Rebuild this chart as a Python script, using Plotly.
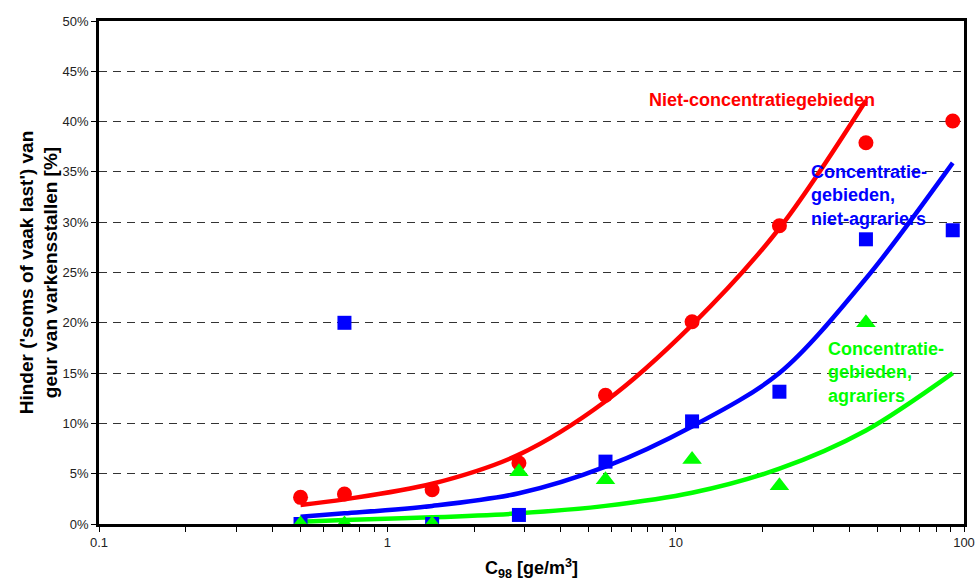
import plotly.graph_objects as go

# Data (C98 in ge/m3, hinder in %)
conc = [0.5, 0.71, 1.43, 2.86, 5.71, 11.4, 22.9, 45.7, 91.4]

red_obs = [2.65, 2.98, 3.4, 6.06, 12.8, 20.1, 29.65, 37.9, 40.06]
blue_obs = [0.0, 20.0, 0.0, 0.9, 6.2, 10.2, 13.15, 28.3, 29.2]
green_x = [0.5, 0.71, 1.43, 2.86, 5.71, 11.4, 22.9, 45.7]
green_obs = [0.0, 0.0, 0.0, 5.2, 4.4, 6.4, 3.8, 20.0]

red_fit_x = [0.5, 0.71, 1.43, 2.86, 5.71, 11.4, 22.9, 45.7]
red_fit = [1.9, 2.45, 4.0, 6.9, 12.2, 19.8, 29.4, 42.1]
blue_fit = [0.73, 1.06, 1.8, 3.05, 5.7, 9.7, 15.0, 24.4, 35.9]
green_fit = [0.23, 0.4, 0.66, 1.06, 1.8, 3.1, 5.5, 9.3, 15.0]

y_ticks = [0, 5, 10, 15, 20, 25, 30, 35, 40, 45, 50]
y_labels = [f"{v}%" for v in y_ticks]
x_ticks = [0.1, 0.2, 0.3, 0.4, 0.5, 0.6, 0.7, 0.8, 0.9,
           1, 2, 3, 4, 5, 6, 7, 8, 9,
           10, 20, 30, 40, 50, 60, 70, 80, 90, 100]
x_labels = {0.1: "0.1", 1: "1", 10: "10", 100: "100"}

RED, BLUE, GREEN = "#FF0000", "#0000FF", "#00FF00"
FONT = "Liberation Sans, Arial, sans-serif"

fig = go.Figure()

for fx, fy, col in [(red_fit_x, red_fit, RED), (conc, blue_fit, BLUE), (conc, green_fit, GREEN)]:
    fig.add_trace(go.Scatter(x=fx, y=fy, mode="lines",
                             line=dict(color=col, width=4.5, shape="spline", smoothing=0.9),
                             showlegend=False, hoverinfo="skip"))

fig.add_trace(go.Scatter(x=conc, y=red_obs, mode="markers",
                         marker=dict(symbol="circle", size=15, color=RED), showlegend=False))
fig.add_trace(go.Scatter(x=conc, y=blue_obs, mode="markers",
                         marker=dict(symbol="square", size=14, color=BLUE), showlegend=False))
fig.add_trace(go.Scatter(x=green_x, y=green_obs, mode="markers",
                         marker=dict(symbol="triangle-up", size=17, color=GREEN), showlegend=False))

fig.add_annotation(text="Niet-concentratiegebieden", xref="paper", yref="y",
                   x=0.634, y=42.1, xanchor="left", yanchor="middle", showarrow=False,
                   font=dict(family=FONT, size=18, color=RED, weight="bold"))
fig.add_annotation(text="Concentratie-<br>gebieden,<br>niet-agrariers", xref="paper", yref="y",
                   x=0.821, y=32.7, xanchor="left", yanchor="middle", align="left", showarrow=False,
                   font=dict(family=FONT, size=18, color=BLUE, weight="bold"))
fig.add_annotation(text="Concentratie-<br>gebieden,<br>agrariers", xref="paper", yref="y",
                   x=0.840, y=15.1, xanchor="left", yanchor="middle", align="left", showarrow=False,
                   font=dict(family=FONT, size=18, color=GREEN, weight="bold"))

fig.update_layout(
    width=979, height=581,
    margin=dict(l=99, r=15, t=21, b=57, autoexpand=False),
    paper_bgcolor="white", plot_bgcolor="white",
    font=dict(family=FONT, color="#222222"),
    showlegend=False,
)
fig.update_xaxes(
    type="log", range=[-1, 2], automargin=False,
    tickvals=x_ticks, ticktext=[x_labels.get(v, "") for v in x_ticks],
    ticks="outside", ticklen=5, tickwidth=1, tickcolor="black",
    tickfont=dict(size=13, color="#222222"),
    showgrid=False, zeroline=False,
    showline=True, linecolor="black", linewidth=2.5, mirror=True,
    title=dict(text="C<sub>98</sub> [ge/m<sup>3</sup>]",
               font=dict(size=18, color="black", weight="bold"), standoff=21),
)
fig.update_yaxes(
    range=[0, 50], automargin=False,
    tickvals=y_ticks, ticktext=y_labels,
    ticks="outside", ticklen=5, tickwidth=1, tickcolor="black",
    tickfont=dict(size=13, color="#222222"),
    showgrid=True, gridcolor="#333333", gridwidth=1, griddash="8px,6px",
    zeroline=False,
    showline=True, linecolor="black", linewidth=2.5, mirror=True,
    title=dict(text="Hinder ('soms of vaak last') van<br>geur van varkensstallen [%]",
               font=dict(size=19, color="black", weight="bold"), standoff=0),
)

fig.write_html("out.html")
